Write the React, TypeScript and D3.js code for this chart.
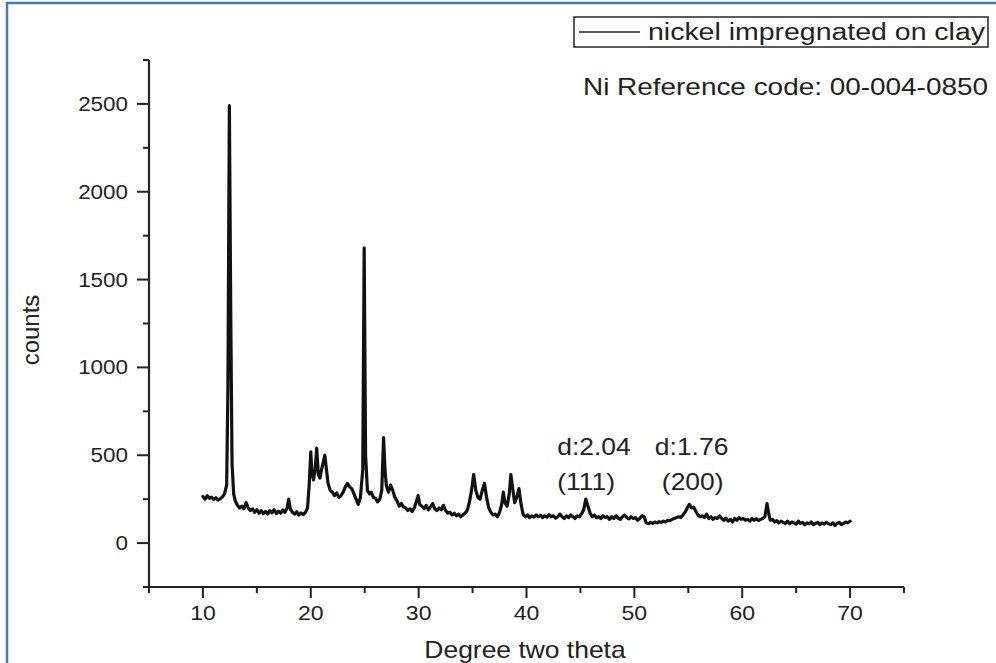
import React from "react";
import * as d3 from "d3";

// XRD pattern: [2θ (degree), counts]
const pattern: [number, number][] = [
  [10.0, 265], [10.2, 250], [10.4, 270], [10.6, 255], [10.8, 262], [11.0, 248], [11.2, 258], [11.4, 245],
  [11.6, 252], [11.8, 262], [12.0, 280], [12.2, 330], [12.32, 900], [12.45, 2490], [12.58, 1300], [12.7, 450],
  [12.85, 280], [13.0, 240], [13.2, 215], [13.4, 200], [13.6, 210], [13.8, 195], [14.0, 230], [14.2, 200], [14.4, 185],
  [14.6, 195], [14.8, 175], [15.0, 190], [15.2, 170], [15.4, 185], [15.6, 168], [15.8, 180], [16.0, 165],
  [16.2, 185], [16.4, 172], [16.6, 190], [16.8, 168], [17.0, 182], [17.2, 170], [17.4, 188], [17.6, 175],
  [17.8, 200], [17.95, 250], [18.1, 195], [18.3, 175], [18.5, 165], [18.7, 178], [18.9, 160], [19.1, 172],
  [19.3, 162], [19.5, 175], [19.7, 200], [19.85, 330], [20.0, 520], [20.1, 400], [20.25, 360], [20.4, 420],
  [20.55, 540], [20.7, 390], [20.85, 370], [21.0, 420], [21.15, 460], [21.3, 500], [21.45, 420], [21.6, 340],
  [21.8, 300], [22.0, 290], [22.2, 270], [22.4, 285], [22.6, 260], [22.8, 270], [23.0, 290], [23.2, 320],
  [23.4, 340], [23.6, 320], [23.8, 310], [24.0, 280], [24.2, 250], [24.4, 220], [24.6, 260], [24.82, 420],
  [24.95, 1680], [25.08, 500], [25.25, 300], [25.45, 280], [25.6, 290], [25.8, 260], [26.0, 255], [26.2, 235],
  [26.4, 250], [26.58, 300], [26.75, 600], [26.88, 420], [27.0, 330], [27.2, 290], [27.4, 330], [27.6, 300],
  [27.8, 260], [28.0, 240], [28.2, 210], [28.4, 225], [28.6, 205], [28.8, 200], [29.0, 185], [29.2, 195],
  [29.4, 180], [29.6, 200], [29.8, 240], [29.95, 270], [30.1, 220], [30.3, 210], [30.5, 195], [30.7, 215],
  [30.9, 190], [31.1, 205], [31.3, 225], [31.5, 195], [31.7, 185], [31.9, 200], [32.1, 190], [32.3, 215],
  [32.5, 185], [32.7, 170], [32.9, 175], [33.1, 160], [33.3, 170], [33.5, 155], [33.7, 165], [33.9, 150],
  [34.1, 160], [34.3, 170], [34.5, 185], [34.7, 230], [34.9, 300], [35.1, 390], [35.3, 300], [35.5, 260],
  [35.7, 250], [35.9, 300], [36.1, 340], [36.3, 260], [36.5, 200], [36.7, 175], [36.9, 160], [37.1, 165],
  [37.3, 150], [37.5, 175], [37.7, 220], [37.85, 290], [38.0, 230], [38.2, 210], [38.4, 280], [38.55, 390],
  [38.7, 320], [38.9, 230], [39.1, 260], [39.3, 310], [39.5, 220], [39.7, 160], [39.9, 150], [40.1, 160],
  [40.3, 145], [40.5, 155], [40.7, 148], [40.9, 160], [41.1, 150], [41.3, 158], [41.5, 145], [41.7, 155],
  [41.9, 148], [42.1, 162], [42.3, 150], [42.5, 155], [42.7, 142], [42.9, 150], [43.1, 165], [43.3, 150],
  [43.5, 140], [43.7, 155], [43.9, 145], [44.1, 160], [44.3, 150], [44.5, 140], [44.7, 155], [44.9, 150],
  [45.1, 165], [45.3, 190], [45.5, 250], [45.7, 210], [45.9, 170], [46.1, 150], [46.3, 160], [46.5, 145],
  [46.7, 150], [46.9, 140], [47.1, 155], [47.3, 145], [47.5, 150], [47.7, 135], [47.9, 150], [48.1, 140],
  [48.3, 155], [48.5, 142], [48.7, 135], [48.9, 150], [49.1, 160], [49.3, 145], [49.5, 138], [49.7, 150],
  [49.9, 140], [50.1, 145], [50.3, 130], [50.5, 140], [50.7, 155], [50.9, 150], [51.1, 115], [51.3, 110],
  [51.5, 118], [51.7, 112], [51.9, 120], [52.1, 115], [52.3, 122], [52.5, 118], [52.7, 125], [52.9, 120],
  [53.1, 130], [53.3, 128], [53.5, 135], [53.7, 140], [53.9, 145], [54.1, 150], [54.3, 145], [54.5, 160],
  [54.7, 175], [54.9, 200], [55.1, 220], [55.3, 200], [55.5, 205], [55.7, 180], [55.9, 160], [56.1, 150],
  [56.3, 155], [56.5, 145], [56.7, 165], [56.9, 140], [57.1, 150], [57.3, 135], [57.5, 145], [57.7, 140],
  [57.9, 155], [58.1, 140], [58.3, 130], [58.5, 142], [58.7, 125], [58.9, 135], [59.1, 120], [59.3, 140],
  [59.5, 130], [59.7, 145], [59.9, 135], [60.1, 140], [60.3, 130], [60.5, 135], [60.7, 125], [60.9, 140],
  [61.1, 130], [61.3, 138], [61.5, 128], [61.7, 135], [61.9, 140], [62.1, 150], [62.3, 225], [62.45, 170],
  [62.6, 130], [62.8, 135], [63.0, 120], [63.2, 128], [63.4, 115], [63.6, 125], [63.8, 118], [64.0, 112],
  [64.2, 125], [64.4, 110], [64.6, 120], [64.8, 115], [65.0, 108], [65.2, 125], [65.4, 112], [65.6, 118],
  [65.8, 105], [66.0, 115], [66.2, 110], [66.4, 120], [66.6, 105], [66.8, 112], [67.0, 118], [67.2, 105],
  [67.4, 115], [67.6, 108], [67.8, 118], [68.0, 110], [68.2, 105], [68.4, 115], [68.6, 100], [68.8, 112],
  [69.0, 118], [69.2, 105], [69.4, 112], [69.6, 120], [69.8, 115], [70.0, 125],
];

const xMajorTicks = [10, 20, 30, 40, 50, 60, 70];
const xMinorTicks = [5, 15, 25, 35, 45, 55, 65, 75];
const yMajorTicks = [0, 500, 1000, 1500, 2000, 2500];
const yMinorTicks = [-250, 250, 750, 1250, 1750, 2250, 2750];
const xDomain = [5, 75];
const yDomain = [-250, 2750];

const legendLabel = "nickel impregnated on clay";
const refLabel = "Ni Reference code: 00-004-0850";
// annotation text anchored (left edge) at these 2θ values
const annotations = [
  { x1: 42.85, line1: "d:2.04", x2: 42.85, line2: "(111)" },
  { x1: 51.9, line1: "d:1.76", x2: 52.55, line2: "(200)" },
];
const xTitle = "Degree two theta";
const yTitle = "counts";

const FONT = "'Liberation Sans', Arial, Helvetica, sans-serif";
const INK = "#222";
const SX = 1.15;

function SText(props: { x: number; y: number; size: number; anchor?: string; children: React.ReactNode; fill?: string }) {
  const { x, y, size, anchor = "start", children, fill = INK } = props;
  return (
    <text
      transform={`translate(${x},${y}) scale(${SX},1)`}
      fontFamily={FONT}
      fontSize={size}
      textAnchor={anchor}
      fill={fill}
    >
      {children}
    </text>
  );
}

export default function App() {
  const W = 996;
  const H = 663;
  const x = d3.scaleLinear().domain(xDomain).range([149, 904]);
  const y = d3.scaleLinear().domain(yDomain).range([587, 60]);

  const line = d3
    .line<[number, number]>()
    .x((d) => x(d[0]))
    .y((d) => y(d[1]));

  const axisY = x(xDomain[0]);
  const axisX = y(yDomain[0]);

  return (
    <svg
      width={W}
      height={H}
      viewBox={`0 0 ${W} ${H}`}
      style={{ position: "absolute", left: 0, top: 0, background: "#fff" }}
    >
      <rect x={0} y={0} width={W} height={H} fill="#ffffff" />
      {/* blue frame */}
      <rect x={7} y={3} width={W + 20} height={H + 20} fill="none" stroke="#4a78b6" strokeWidth={2.5} />

      {/* y axis */}
      <line x1={axisY} x2={axisY} y1={y(yDomain[1])} y2={axisX + 1} stroke={INK} strokeWidth={2.2} />
      {yMajorTicks.map((t) => (
        <g key={"ym" + t}>
          <line x1={axisY - 12} x2={axisY} y1={y(t)} y2={y(t)} stroke={INK} strokeWidth={2} />
          <SText x={128} y={y(t) + 7} size={19.5} anchor="end">
            {t}
          </SText>
        </g>
      ))}
      {yMinorTicks.map((t) => (
        <line key={"yn" + t} x1={axisY - 6} x2={axisY} y1={y(t)} y2={y(t)} stroke={INK} strokeWidth={2} />
      ))}

      {/* x axis */}
      <line x1={axisY - 4} x2={x(xDomain[1])} y1={axisX} y2={axisX} stroke={INK} strokeWidth={2.2} />
      {xMajorTicks.map((t) => (
        <g key={"xm" + t}>
          <line x1={x(t)} x2={x(t)} y1={axisX} y2={axisX + 11} stroke={INK} strokeWidth={2} />
          <SText x={x(t)} y={620} size={20} anchor="middle">
            {t}
          </SText>
        </g>
      ))}
      {xMinorTicks.map((t) => (
        <line key={"xn" + t} x1={x(t)} x2={x(t)} y1={axisX} y2={axisX + 6} stroke={INK} strokeWidth={2} />
      ))}

      {/* axis titles */}
      <SText x={525} y={658} size={23} anchor="middle">
        {xTitle}
      </SText>
      <text
        transform={`translate(39,330) rotate(-90)`}
        fontFamily={FONT}
        fontSize={24}
        textAnchor="middle"
        fill={INK}
      >
        {yTitle}
      </text>

      {/* data */}
      <path
        d={line(pattern) || ""}
        fill="none"
        stroke="#111"
        strokeWidth={3.2}
        strokeLinejoin="round"
        strokeLinecap="round"
      />

      {/* legend */}
      <rect x={574} y={17} width={414} height={30} fill="#fff" stroke="#333" strokeWidth={1.6} />
      <line x1={579} x2={640} y1={32} y2={32} stroke="#222" strokeWidth={1.5} />
      <text
        x={648}
        y={40}
        fontFamily={FONT}
        fontSize={23}
        fill={INK}
        textLength={337}
        lengthAdjust="spacingAndGlyphs"
      >
        {legendLabel}
      </text>
      <text
        x={583}
        y={95}
        fontFamily={FONT}
        fontSize={24}
        fill={INK}
        textLength={405}
        lengthAdjust="spacingAndGlyphs"
      >
        {refLabel}
      </text>

      {/* peak annotations */}
      {annotations.map((a) => (
        <g key={a.line1}>
          <SText x={x(a.x1)} y={455} size={23} anchor="start">
            {a.line1}
          </SText>
          <SText x={x(a.x2)} y={490} size={23} anchor="start">
            {a.line2}
          </SText>
        </g>
      ))}
    </svg>
  );
}
